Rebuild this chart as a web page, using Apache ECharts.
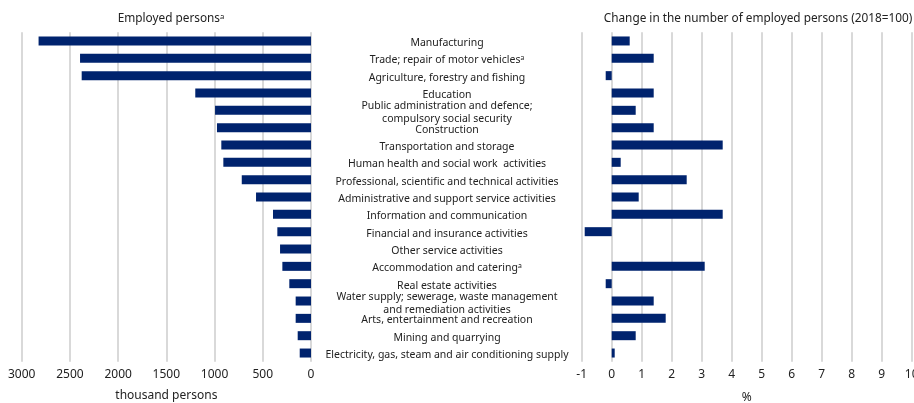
<!DOCTYPE html>
<html>
<head>
<meta charset="utf-8">
<script src="https://cdn.jsdelivr.net/npm/echarts@6/dist/echarts.min.js"></script>
<style>
  html, body { margin: 0; padding: 0; background: #fff; }
  #chart { width: 914px; height: 403px; }
</style>
</head>
<body>
<div id="chart"></div>
<script>
const categories = [
  "Manufacturing",
  "Trade; repair of motor vehiclesᵃ",
  "Agriculture, forestry and fishing",
  "Education",
  "Public administration and defence;\ncompulsory social security",
  "Construction",
  "Transportation and storage",
  "Human health and social work  activities",
  "Professional, scientific and technical activities",
  "Administrative and support service activities",
  "Information and communication",
  "Financial and insurance activities",
  "Other service activities",
  "Accommodation and cateringᵃ",
  "Real estate activities",
  "Water supply; sewerage, waste management\nand remediation activities",
  "Arts, entertainment and recreation",
  "Mining and quarrying",
  "Electricity, gas, steam and air conditioning supply"
];

// thousand persons
const employed = [2825, 2395, 2378, 1200, 995, 975, 930, 909, 718, 570, 394, 349, 321, 297, 225, 159, 159, 138, 117];

// change vs 2018, %
const change = [0.6, 1.4, -0.2, 1.4, 0.8, 1.4, 3.7, 0.3, 2.5, 0.9, 3.7, -0.9, null, 3.1, -0.2, 1.4, 1.8, 0.8, 0.1];

const font = "Noto Sans";
const navy = "#00236e";
const gridColor = "#d9d9d9";

const chart = echarts.init(document.getElementById("chart"));

const option = {
  backgroundColor: "#fff",
  animation: false,
  textStyle: { fontFamily: font },
  title: [
    {
      text: "Employed personsᵃ",
      left: 166, top: 8, textAlign: "center",
      textStyle: { fontFamily: font, fontSize: 11.8, fontWeight: "normal", color: "#222" }
    },
    {
      text: "Change in the number of employed persons (2018=100)",
      left: 753, top: 8, textAlign: "center",
      textStyle: { fontFamily: font, fontSize: 11.8, fontWeight: "normal", color: "#222" }
    }
  ],
  grid: [
    { left: 21.7, right: 603, top: 32.3, bottom: 41.3, outerBoundsMode: "none", containLabel: false },
    { left: 581.7, right: 2.3, top: 32.3, bottom: 41.3, outerBoundsMode: "none", containLabel: false }
  ],
  xAxis: [
    {
      gridIndex: 0, type: "value", inverse: true,
      min: 0, max: 3000, interval: 500,
      name: "thousand persons", nameLocation: "middle", nameGap: 28,
      nameTextStyle: { fontFamily: font, fontSize: 12, color: "#222" },
      axisLine: { show: false }, axisTick: { show: false },
      axisLabel: { fontFamily: font, fontSize: 12, color: "#222", margin: 7, formatter: v => String(v) },
      splitLine: { lineStyle: { color: gridColor, width: 2 } }
    },
    {
      gridIndex: 1, type: "value",
      min: -1, max: 10, interval: 1,
      name: "%", nameLocation: "middle", nameGap: 30,
      nameTextStyle: { fontFamily: font, fontSize: 12, color: "#222" },
      axisLine: { show: false }, axisTick: { show: false },
      axisLabel: { fontFamily: font, fontSize: 12, color: "#222", margin: 7 },
      splitLine: { lineStyle: { color: gridColor, width: 2 } }
    }
  ],
  yAxis: [
    {
      gridIndex: 0, type: "category", data: categories, inverse: true,
      position: "right",
      axisLine: { show: false }, axisTick: { show: false },
      axisLabel: {
        align: "center", margin: 136, interval: 0,
        formatter: v => v.split("\n").map(s => "{c|" + s + "}").join("\n"),
        rich: {
          c: {
            fontFamily: font, fontSize: 10.5, color: "#222",
            lineHeight: 13, padding: [4, 0, 0, 0]
          }
        }
      }
    },
    {
      gridIndex: 1, type: "category", data: categories, inverse: true,
      axisLine: { show: false }, axisTick: { show: false },
      axisLabel: { show: false }
    }
  ],
  series: [
    {
      type: "bar", xAxisIndex: 0, yAxisIndex: 0,
      data: employed, barWidth: 9,
      itemStyle: { color: navy }
    },
    {
      type: "bar", xAxisIndex: 1, yAxisIndex: 1,
      data: change, barWidth: 9,
      itemStyle: { color: navy }
    }
  ]
};

chart.setOption(option);
</script>
</body>
</html>
